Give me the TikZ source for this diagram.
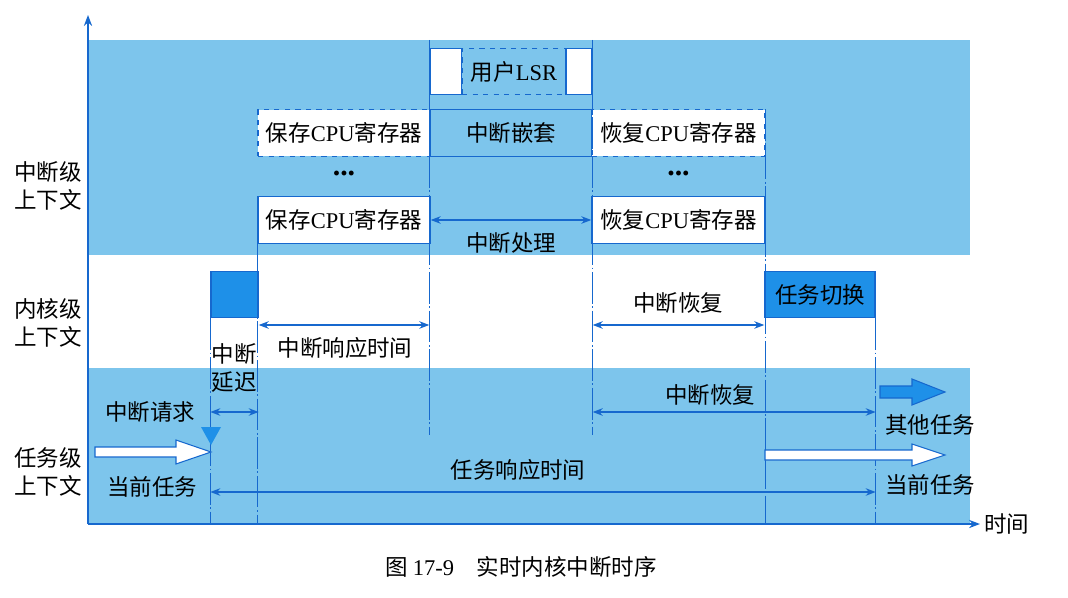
\documentclass[tikz,border=0pt]{standalone}
\usepackage{fontspec}
\setmainfont{Liberation Serif}
\newfontfamily\cjk{Noto Sans CJK SC}
\usepackage{tikz}
\usetikzlibrary{positioning, arrows.meta, calc}
\definecolor{bandblue}{RGB}{125,197,236}
\definecolor{lineblue}{RGB}{22,104,206}
\definecolor{boxblue}{RGB}{30,144,232}

\begin{document}
\begin{tikzpicture}[
        x=0.02cm, y=-0.02cm,
        font=\fontsize{12.8}{16}\selectfont\cjk,
        box/.style={draw=lineblue, line width=0.8pt, fill=white, minimum width=#1, minimum height=0.93cm, inner sep=0pt},
        box/.default=3.44cm,
        span/.style={{Stealth[length=2mm]}-{Stealth[length=2mm]}, lineblue, line width=0.8pt},
        tline/.style={lineblue, line width=0.7pt, dash pattern=on 18pt off 1.5pt on 1pt off 1.5pt},
        axis/.style={-{Stealth[length=2.2mm]}, lineblue, line width=0.9pt},
        blk/.style={draw=lineblue, line width=0.6pt, fill=#1},
        blk/.default=white,
        dots/.style={font=\fontsize{17}{18}\selectfont\bfseries\rmfamily},
    ]
    \useasboundingbox (0,0) rectangle (1068,598);

    % Bands
    \fill[bandblue] (88,40) rectangle (970,255);
    \fill[bandblue] (88,368) rectangle (970,524);

    % Reference points
    \coordinate (o) at (88,524);
    \coordinate (bandtop) at (88,40);
    \coordinate (lowend) at (88,435);
    \coordinate (rowk) at (88,325);
    \coordinate (rowd) at (88,412);
    \coordinate (rowt) at (88,492);

    % Interrupt level
    \node[box=0.64cm] (lsrL) at (446,71.5) {};
    \node[box=2.08cm, dashed, fill=bandblue] (lsr) at (514,71.5) {用户{\rmfamily LSR}};
    \node[box=0.52cm] (lsrR) at (579,71.5) {};
    \node[box, dashed] (save1) at (344,133) {保存{\rmfamily CPU}寄存器};
    \node[box=3.24cm, fill=bandblue] (nest) at (511,133) {中断嵌套};
    \node[box=3.46cm, dashed] (rest1) at (678.5,133) {恢复{\rmfamily CPU}寄存器};
    \node[dots] (dotsL) at (344,174) {...};
    \node[dots] (dotsR) at (678.5,174) {...};
    \node[box] (save2) at (344,220) {保存{\rmfamily CPU}寄存器};
    \node[box=3.46cm] (rest2) at (678.5,220) {恢复{\rmfamily CPU}寄存器};

    % Kernel level
    \node[box=0.94cm, fill=boxblue] (kbox) at (234.5,294.5) {};
    \node[box=2.2cm, fill=boxblue] (swtch) at (820,294.5) {任务切换};

    % Time marks
    \draw[tline] (kbox.south west) -- (kbox.south west |- o);
    \draw[tline] (save2.south west) -- (save2.south west |- o);
    \draw[tline] (lsrL.west |- bandtop) -- (lsrL.west |- lowend);
    \draw[tline] (lsrR.east |- bandtop) -- (lsrR.east |- lowend);
    \draw[tline] (rest1.north east) -- (rest1.north east |- o);
    \draw[tline] (swtch.south east) -- (swtch.south east |- o);

    % Axes
    \draw[axis] (o) -- (88,15);
    \draw[axis] (o) -- (980,524) node[right, inner sep=2pt, text=black] (tlbl) {时间};

    % Spans
    \draw[span] (save2.east) -- (rest2.west);
    \node (hdl) at (511,243) {中断处理};
    \draw[span] (kbox.east |- rowk) -- (lsrL.west |- rowk);
    \node (irt) at (345,348) {中断响应时间};
    \draw[span] (lsrR.east |- rowk) -- (swtch.west |- rowk);
    \node (krec) at (678,303) {中断恢复};
    \draw[span] (kbox.west |- rowd) -- (kbox.east |- rowd);
    \node[align=center] (lat) at (234,368) {中断\\延迟};
    \draw[span] (lsrR.east |- rowd) -- (swtch.east |- rowd);
    \node (trec) at (710,395) {中断恢复};
    \draw[span] (kbox.west |- rowt) -- (swtch.east |- rowt);
    \node (trt) at (518,470) {任务响应时间};

    % Task arrows
    \coordinate (curS) at (95,452);
    \coordinate (curT) at (211,452);
    \draw[blk] ($(curS)+(0,-5)$) -- ($(curT)+(-35,-5)$) -- ($(curT)+(-35,-12)$) -- (curT)
        -- ($(curT)+(-35,12)$) -- ($(curT)+(-35,5)$) -- ($(curS)+(0,5)$) -- cycle;
    \coordinate (req) at (211,445);
    \fill[boxblue] ($(req)+(-10,-18)$) -- ($(req)+(10,-18)$) -- (req) -- cycle;
    \coordinate (othS) at (880,392);
    \coordinate (othT) at (945,392);
    \draw[blk=boxblue] ($(othS)+(0,-6)$) -- ($(othT)+(-33,-6)$) -- ($(othT)+(-33,-13)$) -- (othT)
        -- ($(othT)+(-33,13)$) -- ($(othT)+(-33,6)$) -- ($(othS)+(0,6)$) -- cycle;
    \coordinate (newS) at (765,455);
    \coordinate (newT) at (945,455);
    \draw[blk] ($(newS)+(0,-5)$) -- ($(newT)+(-33,-5)$) -- ($(newT)+(-33,-11)$) -- (newT)
        -- ($(newT)+(-33,11)$) -- ($(newT)+(-33,5)$) -- ($(newS)+(0,5)$) -- cycle;

    \node (reqlbl) at (150,412) {中断请求};
    \node (curlbl) at (152,487) {当前任务};
    \node (othlbl) at (930,425) {其他任务};
    \node (newlbl) at (930,485) {当前任务};

    % Levels
    \node[align=center] (intlv) at (48,186) {中断级\\上下文};
    \node[align=center] (kerlv) at (48,323) {内核级\\上下文};
    \node[align=center] (tsklv) at (48,472) {任务级\\上下文};

    % Caption
    \node (cap) at (521,567) {图 {\rmfamily 17-9}\quad 实时内核中断时序};
\end{tikzpicture}
\end{document}
